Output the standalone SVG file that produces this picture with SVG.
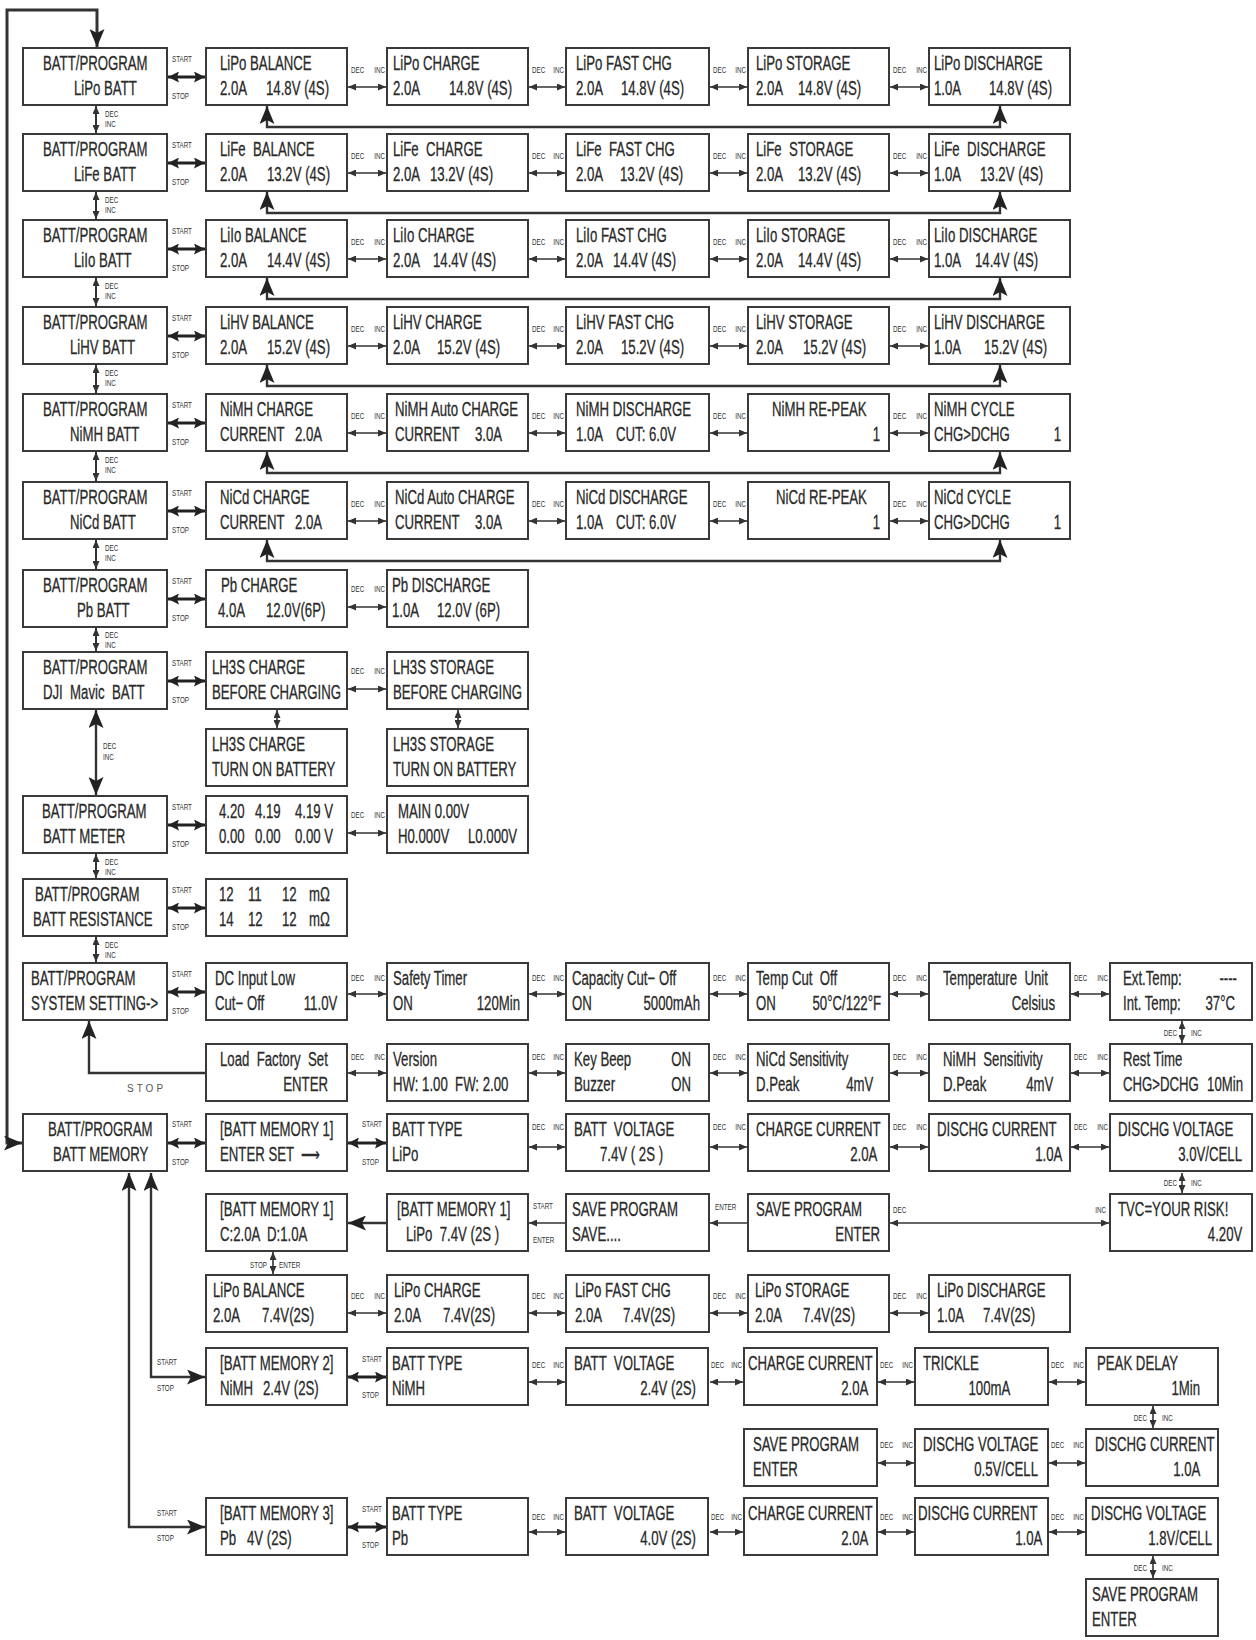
<svg xmlns="http://www.w3.org/2000/svg" width="1256" height="1640" viewBox="0 0 1256 1640" xml:space="preserve">
<style>
.b{fill:#fff;stroke:#3a3a3a;stroke-width:2}
text{font-family:"Liberation Sans",Arial,sans-serif;fill:#2a2a2a;white-space:pre;transform:scaleX(.66);transform-box:fill-box;transform-origin:0 0}
.t{font-size:20px;stroke:#2a2a2a;stroke-width:.3}
.s{font-size:9.5px;fill:#333}
.r{text-anchor:end;transform-origin:100% 0}
.k{font-size:10px;letter-spacing:3px;transform:none;fill:#555}
.l{fill:none;stroke:#333;stroke-width:1.6;marker-start:url(#a);marker-end:url(#a)}
.v{fill:none;stroke:#333;stroke-width:2;marker-start:url(#a);marker-end:url(#a)}
.e{fill:none;stroke:#333;stroke-width:1.6;marker-end:url(#a)}
.m{fill:none;stroke:#222;stroke-width:3;marker-start:url(#m);marker-end:url(#m)}
.w{fill:none;stroke:#333;stroke-width:2.4;marker-start:url(#A);marker-end:url(#A)}
.we{fill:none;stroke:#333;stroke-width:2.4;marker-end:url(#A)}
.o{fill:none;stroke:#333;stroke-width:3;marker-start:url(#A);marker-end:url(#A)}
</style>
<defs>
<marker id="a" viewBox="0 0 8 7" refX="8" refY="3.5" markerWidth="8" markerHeight="7" markerUnits="userSpaceOnUse" orient="auto-start-reverse"><path d="M0,0L8,3.5L0,7z" fill="#333"/></marker>
<marker id="m" viewBox="0 0 11 11" refX="11" refY="5.5" markerWidth="11" markerHeight="11" markerUnits="userSpaceOnUse" orient="auto-start-reverse"><path d="M0,0L11,5.5L0,11L2,5.5z" fill="#222"/></marker>
<marker id="A" viewBox="0 0 18 15" refX="18" refY="7.5" markerWidth="18" markerHeight="15" markerUnits="userSpaceOnUse" orient="auto-start-reverse"><path d="M0,0L18,7.5L0,15L4,7.5z" fill="#222"/></marker>
</defs>
<rect width="1256" height="1640" fill="#fff"/>

<g id="connectors">
<polyline class="o" points="22,1143 7,1143 7,10 97,10 97,47"/>
<line class="v" x1="96" y1="106" x2="96" y2="133"/><text class="s" x="105" y="117">DEC</text><text class="s" x="105" y="127">INC</text>
<line class="v" x1="96" y1="192" x2="96" y2="219"/><text class="s" x="105" y="203">DEC</text><text class="s" x="105" y="213">INC</text>
<line class="v" x1="96" y1="278" x2="96" y2="306"/><text class="s" x="105" y="289">DEC</text><text class="s" x="105" y="299">INC</text>
<line class="v" x1="96" y1="365" x2="96" y2="393"/><text class="s" x="105" y="376">DEC</text><text class="s" x="105" y="386">INC</text>
<line class="v" x1="96" y1="452" x2="96" y2="481"/><text class="s" x="105" y="463">DEC</text><text class="s" x="105" y="473">INC</text>
<line class="v" x1="96" y1="540" x2="96" y2="569"/><text class="s" x="105" y="551">DEC</text><text class="s" x="105" y="561">INC</text>
<line class="v" x1="96" y1="628" x2="96" y2="651"/><text class="s" x="105" y="638">DEC</text><text class="s" x="105" y="648">INC</text>
<line class="w" x1="96" y1="710" x2="96" y2="795"/><text class="s" x="103" y="749">DEC</text><text class="s" x="103" y="760">INC</text>
<line class="v" x1="96" y1="854" x2="96" y2="878"/><text class="s" x="105" y="865">DEC</text><text class="s" x="105" y="875">INC</text>
<line class="v" x1="96" y1="937" x2="96" y2="962"/><text class="s" x="105" y="948">DEC</text><text class="s" x="105" y="958">INC</text>

<polyline class="w" points="267,106 267,127 1000,127 1000,106"/>
<polyline class="w" points="267,192 267,213 1000,213 1000,192"/>
<polyline class="w" points="267,278 267,299 1000,299 1000,278"/>
<polyline class="w" points="267,365 267,386 1000,386 1000,365"/>
<polyline class="w" points="267,452 267,473 1000,473 1000,452"/>
<polyline class="w" points="267,540 267,561 1000,561 1000,540"/>

<line class="m" x1="168" y1="77" x2="205" y2="77"/><text class="s" x="172" y="62">START</text><text class="s" x="172" y="99">STOP</text>
<line class="m" x1="168" y1="163" x2="205" y2="163"/><text class="s" x="172" y="148">START</text><text class="s" x="172" y="185">STOP</text>
<line class="m" x1="168" y1="249" x2="205" y2="249"/><text class="s" x="172" y="234">START</text><text class="s" x="172" y="271">STOP</text>
<line class="m" x1="168" y1="336" x2="205" y2="336"/><text class="s" x="172" y="321">START</text><text class="s" x="172" y="358">STOP</text>
<line class="m" x1="168" y1="423" x2="205" y2="423"/><text class="s" x="172" y="408">START</text><text class="s" x="172" y="445">STOP</text>
<line class="m" x1="168" y1="511" x2="205" y2="511"/><text class="s" x="172" y="496">START</text><text class="s" x="172" y="533">STOP</text>
<line class="m" x1="168" y1="599" x2="205" y2="599"/><text class="s" x="172" y="584">START</text><text class="s" x="172" y="621">STOP</text>
<line class="m" x1="168" y1="681" x2="205" y2="681"/><text class="s" x="172" y="666">START</text><text class="s" x="172" y="703">STOP</text>
<line class="m" x1="168" y1="825" x2="205" y2="825"/><text class="s" x="172" y="810">START</text><text class="s" x="172" y="847">STOP</text>
<line class="m" x1="168" y1="908" x2="205" y2="908"/><text class="s" x="172" y="893">START</text><text class="s" x="172" y="930">STOP</text>
<line class="m" x1="168" y1="992" x2="205" y2="992"/><text class="s" x="172" y="977">START</text><text class="s" x="172" y="1014">STOP</text>
<line class="m" x1="168" y1="1143" x2="205" y2="1143"/><text class="s" x="172" y="1127">START</text><text class="s" x="172" y="1165">STOP</text>
<line class="m" x1="348" y1="1143" x2="386" y2="1143"/><text class="s" x="362" y="1127">START</text><text class="s" x="362" y="1165">STOP</text>
<line class="m" x1="348" y1="1377" x2="386" y2="1377"/><text class="s" x="362" y="1362">START</text><text class="s" x="362" y="1398">STOP</text>
<line class="m" x1="348" y1="1527" x2="386" y2="1527"/><text class="s" x="362" y="1512">START</text><text class="s" x="362" y="1548">STOP</text>

<polyline class="we" points="205,1073 89,1073 89,1021"/><text class="k" x="127" y="1092">STOP</text>
<polyline class="w" points="151,1173 151,1377 205,1377"/><text class="s" x="157" y="1365">START</text><text class="s" x="157" y="1391">STOP</text>
<polyline class="w" points="129,1173 129,1527 205,1527"/><text class="s" x="157" y="1516">START</text><text class="s" x="157" y="1541">STOP</text>

<line class="l" x1="348" y1="87" x2="386" y2="87"/><text class="s" x="351" y="73">DEC</text><text class="s r" x="385" y="73">INC</text>
<line class="l" x1="529" y1="87" x2="565" y2="87"/><text class="s" x="532" y="73">DEC</text><text class="s r" x="564" y="73">INC</text>
<line class="l" x1="710" y1="87" x2="747" y2="87"/><text class="s" x="713" y="73">DEC</text><text class="s r" x="746" y="73">INC</text>
<line class="l" x1="890" y1="87" x2="928" y2="87"/><text class="s" x="893" y="73">DEC</text><text class="s r" x="927" y="73">INC</text>

<line class="l" x1="348" y1="173" x2="386" y2="173"/><text class="s" x="351" y="159">DEC</text><text class="s r" x="385" y="159">INC</text>
<line class="l" x1="529" y1="173" x2="565" y2="173"/><text class="s" x="532" y="159">DEC</text><text class="s r" x="564" y="159">INC</text>
<line class="l" x1="710" y1="173" x2="747" y2="173"/><text class="s" x="713" y="159">DEC</text><text class="s r" x="746" y="159">INC</text>
<line class="l" x1="890" y1="173" x2="928" y2="173"/><text class="s" x="893" y="159">DEC</text><text class="s r" x="927" y="159">INC</text>

<line class="l" x1="348" y1="259" x2="386" y2="259"/><text class="s" x="351" y="245">DEC</text><text class="s r" x="385" y="245">INC</text>
<line class="l" x1="529" y1="259" x2="565" y2="259"/><text class="s" x="532" y="245">DEC</text><text class="s r" x="564" y="245">INC</text>
<line class="l" x1="710" y1="259" x2="747" y2="259"/><text class="s" x="713" y="245">DEC</text><text class="s r" x="746" y="245">INC</text>
<line class="l" x1="890" y1="259" x2="928" y2="259"/><text class="s" x="893" y="245">DEC</text><text class="s r" x="927" y="245">INC</text>

<line class="l" x1="348" y1="346" x2="386" y2="346"/><text class="s" x="351" y="332">DEC</text><text class="s r" x="385" y="332">INC</text>
<line class="l" x1="529" y1="346" x2="565" y2="346"/><text class="s" x="532" y="332">DEC</text><text class="s r" x="564" y="332">INC</text>
<line class="l" x1="710" y1="346" x2="747" y2="346"/><text class="s" x="713" y="332">DEC</text><text class="s r" x="746" y="332">INC</text>
<line class="l" x1="890" y1="346" x2="928" y2="346"/><text class="s" x="893" y="332">DEC</text><text class="s r" x="927" y="332">INC</text>

<line class="l" x1="348" y1="433" x2="386" y2="433"/><text class="s" x="351" y="419">DEC</text><text class="s r" x="385" y="419">INC</text>
<line class="l" x1="529" y1="433" x2="565" y2="433"/><text class="s" x="532" y="419">DEC</text><text class="s r" x="564" y="419">INC</text>
<line class="l" x1="710" y1="433" x2="747" y2="433"/><text class="s" x="713" y="419">DEC</text><text class="s r" x="746" y="419">INC</text>
<line class="l" x1="890" y1="433" x2="928" y2="433"/><text class="s" x="893" y="419">DEC</text><text class="s r" x="927" y="419">INC</text>

<line class="l" x1="348" y1="521" x2="386" y2="521"/><text class="s" x="351" y="507">DEC</text><text class="s r" x="385" y="507">INC</text>
<line class="l" x1="529" y1="521" x2="565" y2="521"/><text class="s" x="532" y="507">DEC</text><text class="s r" x="564" y="507">INC</text>
<line class="l" x1="710" y1="521" x2="747" y2="521"/><text class="s" x="713" y="507">DEC</text><text class="s r" x="746" y="507">INC</text>
<line class="l" x1="890" y1="521" x2="928" y2="521"/><text class="s" x="893" y="507">DEC</text><text class="s r" x="927" y="507">INC</text>

<line class="l" x1="348" y1="607" x2="386" y2="607"/><text class="s" x="351" y="592">DEC</text><text class="s r" x="385" y="592">INC</text>
<line class="l" x1="348" y1="689" x2="386" y2="689"/><text class="s" x="351" y="674">DEC</text><text class="s r" x="385" y="674">INC</text>
<line class="l" x1="277" y1="710" x2="277" y2="728"/>
<line class="l" x1="458" y1="710" x2="458" y2="728"/>
<line class="l" x1="348" y1="833" x2="386" y2="833"/><text class="s" x="351" y="818">DEC</text><text class="s r" x="385" y="818">INC</text>

<line class="l" x1="348" y1="994" x2="386" y2="994"/><text class="s" x="351" y="981">DEC</text><text class="s r" x="385" y="981">INC</text>
<line class="l" x1="529" y1="994" x2="565" y2="994"/><text class="s" x="532" y="981">DEC</text><text class="s r" x="564" y="981">INC</text>
<line class="l" x1="710" y1="994" x2="747" y2="994"/><text class="s" x="713" y="981">DEC</text><text class="s r" x="746" y="981">INC</text>
<line class="l" x1="890" y1="994" x2="928" y2="994"/><text class="s" x="893" y="981">DEC</text><text class="s r" x="927" y="981">INC</text>
<line class="l" x1="1071" y1="994" x2="1109" y2="994"/><text class="s" x="1074" y="981">DEC</text><text class="s r" x="1108" y="981">INC</text>
<line class="l" x1="1182" y1="1021" x2="1182" y2="1043"/><text class="s r" x="1177" y="1036">DEC</text><text class="s" x="1191" y="1036">INC</text>

<line class="l" x1="348" y1="1073" x2="386" y2="1073"/><text class="s" x="351" y="1060">DEC</text><text class="s r" x="385" y="1060">INC</text>
<line class="l" x1="529" y1="1073" x2="565" y2="1073"/><text class="s" x="532" y="1060">DEC</text><text class="s r" x="564" y="1060">INC</text>
<line class="l" x1="710" y1="1073" x2="747" y2="1073"/><text class="s" x="713" y="1060">DEC</text><text class="s r" x="746" y="1060">INC</text>
<line class="l" x1="890" y1="1073" x2="928" y2="1073"/><text class="s" x="893" y="1060">DEC</text><text class="s r" x="927" y="1060">INC</text>
<line class="l" x1="1071" y1="1073" x2="1109" y2="1073"/><text class="s" x="1074" y="1060">DEC</text><text class="s r" x="1108" y="1060">INC</text>

<line class="l" x1="529" y1="1147" x2="565" y2="1147"/><text class="s" x="532" y="1130">DEC</text><text class="s r" x="564" y="1130">INC</text>
<line class="l" x1="710" y1="1147" x2="747" y2="1147"/><text class="s" x="713" y="1130">DEC</text><text class="s r" x="746" y="1130">INC</text>
<line class="l" x1="890" y1="1147" x2="928" y2="1147"/><text class="s" x="893" y="1130">DEC</text><text class="s r" x="927" y="1130">INC</text>
<line class="l" x1="1071" y1="1147" x2="1109" y2="1147"/><text class="s" x="1074" y="1130">DEC</text><text class="s r" x="1108" y="1130">INC</text>
<line class="l" x1="1182" y1="1173" x2="1182" y2="1193"/><text class="s r" x="1177" y="1186">DEC</text><text class="s" x="1191" y="1186">INC</text>

<line class="we" x1="386" y1="1223" x2="348" y2="1223"/>
<line class="e" x1="565" y1="1223" x2="529" y2="1223"/><text class="s" x="533" y="1209">START</text><text class="s" x="533" y="1243">ENTER</text>
<line class="e" x1="747" y1="1223" x2="710" y2="1223"/><text class="s" x="715" y="1210">ENTER</text>
<line class="l" x1="1109" y1="1223" x2="890" y2="1223"/><text class="s" x="893" y="1213">DEC</text><text class="s r" x="1106" y="1213">INC</text>
<line class="l" x1="273" y1="1252" x2="273" y2="1274"/><text class="s r" x="267" y="1268">STOP</text><text class="s" x="279" y="1268">ENTER</text>

<line class="l" x1="348" y1="1313" x2="386" y2="1313"/><text class="s" x="351" y="1299">DEC</text><text class="s r" x="385" y="1299">INC</text>
<line class="l" x1="529" y1="1313" x2="565" y2="1313"/><text class="s" x="532" y="1299">DEC</text><text class="s r" x="564" y="1299">INC</text>
<line class="l" x1="710" y1="1313" x2="747" y2="1313"/><text class="s" x="713" y="1299">DEC</text><text class="s r" x="746" y="1299">INC</text>
<line class="l" x1="890" y1="1313" x2="928" y2="1313"/><text class="s" x="893" y="1299">DEC</text><text class="s r" x="927" y="1299">INC</text>

<line class="l" x1="529" y1="1382" x2="565" y2="1382"/><text class="s" x="532" y="1368">DEC</text><text class="s r" x="564" y="1368">INC</text>
<line class="l" x1="710" y1="1382" x2="743" y2="1382"/><text class="s" x="711" y="1368">DEC</text><text class="s r" x="742" y="1368">INC</text>
<line class="l" x1="878" y1="1382" x2="914" y2="1382"/><text class="s" x="880" y="1368">DEC</text><text class="s r" x="913" y="1368">INC</text>
<line class="l" x1="1049" y1="1382" x2="1085" y2="1382"/><text class="s" x="1051" y="1368">DEC</text><text class="s r" x="1084" y="1368">INC</text>
<line class="l" x1="1153" y1="1406" x2="1153" y2="1428"/><text class="s r" x="1147" y="1421">DEC</text><text class="s" x="1162" y="1421">INC</text>

<line class="l" x1="878" y1="1463" x2="914" y2="1463"/><text class="s" x="880" y="1448">DEC</text><text class="s r" x="913" y="1448">INC</text>
<line class="l" x1="1049" y1="1463" x2="1085" y2="1463"/><text class="s" x="1051" y="1448">DEC</text><text class="s r" x="1084" y="1448">INC</text>

<line class="l" x1="529" y1="1532" x2="565" y2="1532"/><text class="s" x="532" y="1520">DEC</text><text class="s r" x="564" y="1520">INC</text>
<line class="l" x1="710" y1="1532" x2="743" y2="1532"/><text class="s" x="711" y="1520">DEC</text><text class="s r" x="742" y="1520">INC</text>
<line class="l" x1="878" y1="1532" x2="914" y2="1532"/><text class="s" x="880" y="1520">DEC</text><text class="s r" x="913" y="1520">INC</text>
<line class="l" x1="1049" y1="1532" x2="1085" y2="1532"/><text class="s" x="1051" y="1520">DEC</text><text class="s r" x="1084" y="1520">INC</text>
<line class="l" x1="1153" y1="1556" x2="1153" y2="1578"/><text class="s r" x="1147" y="1571">DEC</text><text class="s" x="1162" y="1571">INC</text>
</g>

<g id="p-lipo" transform="translate(23 48)"><rect class="b" width="144" height="57"/><text class="t" x="20" y="22">BATT/PROGRAM</text><text class="t" x="51" y="47">LiPo BATT</text></g>
<g id="p-life" transform="translate(23 134)"><rect class="b" width="144" height="57"/><text class="t" x="20" y="22">BATT/PROGRAM</text><text class="t" x="51" y="47">LiFe BATT</text></g>
<g id="p-liio" transform="translate(23 220)"><rect class="b" width="144" height="57"/><text class="t" x="20" y="22">BATT/PROGRAM</text><text class="t" x="51" y="47">LiIo BATT</text></g>
<g id="p-lihv" transform="translate(23 307)"><rect class="b" width="144" height="57"/><text class="t" x="20" y="22">BATT/PROGRAM</text><text class="t" x="47" y="47">LiHV BATT</text></g>
<g id="p-nimh" transform="translate(23 394)"><rect class="b" width="144" height="57"/><text class="t" x="20" y="22">BATT/PROGRAM</text><text class="t" x="47" y="47">NiMH BATT</text></g>
<g id="p-nicd" transform="translate(23 482)"><rect class="b" width="144" height="57"/><text class="t" x="20" y="22">BATT/PROGRAM</text><text class="t" x="47" y="47">NiCd BATT</text></g>
<g id="p-pb" transform="translate(23 570)"><rect class="b" width="144" height="57"/><text class="t" x="20" y="22">BATT/PROGRAM</text><text class="t" x="54" y="47">Pb BATT</text></g>
<g id="p-dji" transform="translate(23 652)"><rect class="b" width="144" height="57"/><text class="t" x="20" y="22">BATT/PROGRAM</text><text class="t" x="20" y="47">DJI  Mavic  BATT</text></g>
<g id="p-meter" transform="translate(23 796)"><rect class="b" width="144" height="57"/><text class="t" x="19" y="22">BATT/PROGRAM</text><text class="t" x="20" y="47">BATT METER</text></g>
<g id="p-res" transform="translate(23 879)"><rect class="b" width="144" height="57"/><text class="t" x="12" y="22">BATT/PROGRAM</text><text class="t" x="10" y="47">BATT RESISTANCE</text></g>
<g id="p-sys" transform="translate(23 963)"><rect class="b" width="144" height="57"/><text class="t" x="8" y="22">BATT/PROGRAM</text><text class="t" x="8" y="47">SYSTEM SETTING-&gt;</text></g>
<g id="p-mem" transform="translate(23 1114)"><rect class="b" width="144" height="57"/><text class="t" x="25" y="22">BATT/PROGRAM</text><text class="t" x="30" y="47">BATT MEMORY</text></g>

<g id="lipo-bal" transform="translate(206 48)"><rect class="b" width="141" height="57"/><text class="t" x="14" y="22">LiPo BALANCE</text><text class="t" x="14" y="47">2.0A</text><text class="t" x="60" y="47">14.8V (4S)</text></g>
<g id="lipo-chg" transform="translate(387 48)"><rect class="b" width="141" height="57"/><text class="t" x="6" y="22">LiPo CHARGE</text><text class="t" x="6" y="47">2.0A</text><text class="t" x="62" y="47">14.8V (4S)</text></g>
<g id="lipo-fast" transform="translate(566 48)"><rect class="b" width="143" height="57"/><text class="t" x="10" y="22">LiPo FAST CHG</text><text class="t" x="10" y="47">2.0A</text><text class="t" x="55" y="47">14.8V (4S)</text></g>
<g id="lipo-sto" transform="translate(748 48)"><rect class="b" width="141" height="57"/><text class="t" x="8" y="22">LiPo STORAGE</text><text class="t" x="8" y="47">2.0A</text><text class="t" x="50" y="47">14.8V (4S)</text></g>
<g id="lipo-dis" transform="translate(929 48)"><rect class="b" width="141" height="57"/><text class="t" x="5" y="22">LiPo DISCHARGE</text><text class="t" x="5" y="47">1.0A</text><text class="t" x="60" y="47">14.8V (4S)</text></g>

<g id="life-bal" transform="translate(206 134)"><rect class="b" width="141" height="57"/><text class="t" x="14" y="22">LiFe  BALANCE</text><text class="t" x="14" y="47">2.0A</text><text class="t" x="61" y="47">13.2V (4S)</text></g>
<g id="life-chg" transform="translate(387 134)"><rect class="b" width="141" height="57"/><text class="t" x="6" y="22">LiFe  CHARGE</text><text class="t" x="6" y="47">2.0A</text><text class="t" x="43" y="47">13.2V (4S)</text></g>
<g id="life-fast" transform="translate(566 134)"><rect class="b" width="143" height="57"/><text class="t" x="10" y="22">LiFe  FAST CHG</text><text class="t" x="10" y="47">2.0A</text><text class="t" x="54" y="47">13.2V (4S)</text></g>
<g id="life-sto" transform="translate(748 134)"><rect class="b" width="141" height="57"/><text class="t" x="8" y="22">LiFe  STORAGE</text><text class="t" x="8" y="47">2.0A</text><text class="t" x="50" y="47">13.2V (4S)</text></g>
<g id="life-dis" transform="translate(929 134)"><rect class="b" width="141" height="57"/><text class="t" x="5" y="22">LiFe  DISCHARGE</text><text class="t" x="5" y="47">1.0A</text><text class="t" x="51" y="47">13.2V (4S)</text></g>

<g id="liio-bal" transform="translate(206 220)"><rect class="b" width="141" height="57"/><text class="t" x="14" y="22">LiIo BALANCE</text><text class="t" x="14" y="47">2.0A</text><text class="t" x="61" y="47">14.4V (4S)</text></g>
<g id="liio-chg" transform="translate(387 220)"><rect class="b" width="141" height="57"/><text class="t" x="6" y="22">LiIo CHARGE</text><text class="t" x="6" y="47">2.0A</text><text class="t" x="46" y="47">14.4V (4S)</text></g>
<g id="liio-fast" transform="translate(566 220)"><rect class="b" width="143" height="57"/><text class="t" x="10" y="22">LiIo FAST CHG</text><text class="t" x="10" y="47">2.0A</text><text class="t" x="47" y="47">14.4V (4S)</text></g>
<g id="liio-sto" transform="translate(748 220)"><rect class="b" width="141" height="57"/><text class="t" x="8" y="22">LiIo STORAGE</text><text class="t" x="8" y="47">2.0A</text><text class="t" x="50" y="47">14.4V (4S)</text></g>
<g id="liio-dis" transform="translate(929 220)"><rect class="b" width="141" height="57"/><text class="t" x="5" y="22">LiIo DISCHARGE</text><text class="t" x="5" y="47">1.0A</text><text class="t" x="46" y="47">14.4V (4S)</text></g>

<g id="lihv-bal" transform="translate(206 307)"><rect class="b" width="141" height="57"/><text class="t" x="14" y="22">LiHV BALANCE</text><text class="t" x="14" y="47">2.0A</text><text class="t" x="61" y="47">15.2V (4S)</text></g>
<g id="lihv-chg" transform="translate(387 307)"><rect class="b" width="141" height="57"/><text class="t" x="6" y="22">LiHV CHARGE</text><text class="t" x="6" y="47">2.0A</text><text class="t" x="50" y="47">15.2V (4S)</text></g>
<g id="lihv-fast" transform="translate(566 307)"><rect class="b" width="143" height="57"/><text class="t" x="10" y="22">LiHV FAST CHG</text><text class="t" x="10" y="47">2.0A</text><text class="t" x="55" y="47">15.2V (4S)</text></g>
<g id="lihv-sto" transform="translate(748 307)"><rect class="b" width="141" height="57"/><text class="t" x="8" y="22">LiHV STORAGE</text><text class="t" x="8" y="47">2.0A</text><text class="t" x="55" y="47">15.2V (4S)</text></g>
<g id="lihv-dis" transform="translate(929 307)"><rect class="b" width="141" height="57"/><text class="t" x="5" y="22">LiHV DISCHARGE</text><text class="t" x="5" y="47">1.0A</text><text class="t" x="55" y="47">15.2V (4S)</text></g>

<g id="nimh-chg" transform="translate(206 394)"><rect class="b" width="141" height="57"/><text class="t" x="14" y="22">NiMH CHARGE</text><text class="t" x="14" y="47">CURRENT</text><text class="t" x="89" y="47">2.0A</text></g>
<g id="nimh-auto" transform="translate(387 394)"><rect class="b" width="141" height="57"/><text class="t" x="8" y="22">NiMH Auto CHARGE</text><text class="t" x="8" y="47">CURRENT</text><text class="t" x="88" y="47">3.0A</text></g>
<g id="nimh-dis" transform="translate(566 394)"><rect class="b" width="143" height="57"/><text class="t" x="10" y="22">NiMH DISCHARGE</text><text class="t" x="10" y="47">1.0A</text><text class="t" x="50" y="47">CUT: 6.0V</text></g>
<g id="nimh-peak" transform="translate(748 394)"><rect class="b" width="141" height="57"/><text class="t" x="24" y="22">NiMH RE-PEAK</text><text class="t r" x="132" y="47">1</text></g>
<g id="nimh-cyc" transform="translate(929 394)"><rect class="b" width="141" height="57"/><text class="t" x="5" y="22">NiMH CYCLE</text><text class="t" x="5" y="47">CHG&gt;DCHG</text><text class="t r" x="132" y="47">1</text></g>

<g id="nicd-chg" transform="translate(206 482)"><rect class="b" width="141" height="57"/><text class="t" x="14" y="22">NiCd CHARGE</text><text class="t" x="14" y="47">CURRENT</text><text class="t" x="89" y="47">2.0A</text></g>
<g id="nicd-auto" transform="translate(387 482)"><rect class="b" width="141" height="57"/><text class="t" x="8" y="22">NiCd Auto CHARGE</text><text class="t" x="8" y="47">CURRENT</text><text class="t" x="88" y="47">3.0A</text></g>
<g id="nicd-dis" transform="translate(566 482)"><rect class="b" width="143" height="57"/><text class="t" x="10" y="22">NiCd DISCHARGE</text><text class="t" x="10" y="47">1.0A</text><text class="t" x="50" y="47">CUT: 6.0V</text></g>
<g id="nicd-peak" transform="translate(748 482)"><rect class="b" width="141" height="57"/><text class="t" x="28" y="22">NiCd RE-PEAK</text><text class="t r" x="132" y="47">1</text></g>
<g id="nicd-cyc" transform="translate(929 482)"><rect class="b" width="141" height="57"/><text class="t" x="5" y="22">NiCd CYCLE</text><text class="t" x="5" y="47">CHG&gt;DCHG</text><text class="t r" x="132" y="47">1</text></g>

<g id="pb-chg" transform="translate(206 570)"><rect class="b" width="141" height="57"/><text class="t" x="15" y="22">Pb CHARGE</text><text class="t" x="12" y="47">4.0A</text><text class="t" x="60" y="47">12.0V(6P)</text></g>
<g id="pb-dis" transform="translate(387 570)"><rect class="b" width="141" height="57"/><text class="t" x="5" y="22">Pb DISCHARGE</text><text class="t" x="5" y="47">1.0A</text><text class="t" x="50" y="47">12.0V (6P)</text></g>

<g id="dji-chg" transform="translate(206 652)"><rect class="b" width="141" height="57"/><text class="t" x="6" y="22">LH3S CHARGE</text><text class="t" x="6" y="47">BEFORE CHARGING</text></g>
<g id="dji-sto" transform="translate(387 652)"><rect class="b" width="141" height="57"/><text class="t" x="6" y="22">LH3S STORAGE</text><text class="t" x="6" y="47">BEFORE CHARGING</text></g>
<g id="dji-chg-on" transform="translate(206 729)"><rect class="b" width="141" height="57"/><text class="t" x="6" y="22">LH3S CHARGE</text><text class="t" x="6" y="47">TURN ON BATTERY</text></g>
<g id="dji-sto-on" transform="translate(387 729)"><rect class="b" width="141" height="57"/><text class="t" x="6" y="22">LH3S STORAGE</text><text class="t" x="6" y="47">TURN ON BATTERY</text></g>

<g id="meter-cells" transform="translate(206 796)"><rect class="b" width="141" height="57"/><text class="t" x="13" y="22">4.20</text><text class="t" x="49" y="22">4.19</text><text class="t" x="89" y="22">4.19 V</text><text class="t" x="13" y="47">0.00</text><text class="t" x="49" y="47">0.00</text><text class="t" x="89" y="47">0.00 V</text></g>
<g id="meter-main" transform="translate(387 796)"><rect class="b" width="141" height="57"/><text class="t" x="11" y="22">MAIN 0.00V</text><text class="t" x="11" y="47">H0.000V</text><text class="t" x="81" y="47">L0.000V</text></g>
<g id="res-cells" transform="translate(206 879)"><rect class="b" width="141" height="57"/><text class="t" x="13" y="22">12</text><text class="t" x="42" y="22">11</text><text class="t" x="76" y="22">12</text><text class="t" x="103" y="22">mΩ</text><text class="t" x="13" y="47">14</text><text class="t" x="42" y="47">12</text><text class="t" x="76" y="47">12</text><text class="t" x="103" y="47">mΩ</text></g>

<g id="sys-dc" transform="translate(206 963)"><rect class="b" width="141" height="57"/><text class="t" x="9" y="22">DC Input Low</text><text class="t" x="9" y="47">Cut− Off</text><text class="t r" x="131" y="47">11.0V</text></g>
<g id="sys-timer" transform="translate(387 963)"><rect class="b" width="141" height="57"/><text class="t" x="6" y="22">Safety Timer</text><text class="t" x="6" y="47">ON</text><text class="t r" x="133" y="47">120Min</text></g>
<g id="sys-cap" transform="translate(566 963)"><rect class="b" width="143" height="57"/><text class="t" x="6" y="22">Capacity Cut− Off</text><text class="t" x="6" y="47">ON</text><text class="t r" x="134" y="47">5000mAh</text></g>
<g id="sys-temp" transform="translate(748 963)"><rect class="b" width="141" height="57"/><text class="t" x="8" y="22">Temp Cut  Off</text><text class="t" x="8" y="47">ON</text><text class="t r" x="133" y="47">50°C/122°F</text></g>
<g id="sys-unit" transform="translate(929 963)"><rect class="b" width="141" height="57"/><text class="t" x="14" y="22">Temperature  Unit</text><text class="t r" x="126" y="47">Celsius</text></g>
<g id="sys-ext" transform="translate(1110 963)"><rect class="b" width="142" height="57"/><text class="t" x="13" y="22">Ext.Temp:</text><text class="t r" x="127" y="22">----</text><text class="t" x="13" y="47">Int. Temp:</text><text class="t r" x="125" y="47">37°C</text></g>

<g id="sys-load" transform="translate(206 1044)"><rect class="b" width="141" height="57"/><text class="t" x="14" y="22">Load  Factory  Set</text><text class="t r" x="122" y="47">ENTER</text></g>
<g id="sys-ver" transform="translate(387 1044)"><rect class="b" width="141" height="57"/><text class="t" x="6" y="22">Version</text><text class="t" x="6" y="47">HW: 1.00  FW: 2.00</text></g>
<g id="sys-beep" transform="translate(566 1044)"><rect class="b" width="143" height="57"/><text class="t" x="8" y="22">Key Beep</text><text class="t r" x="125" y="22">ON</text><text class="t" x="8" y="47">Buzzer</text><text class="t r" x="125" y="47">ON</text></g>
<g id="sys-nicd" transform="translate(748 1044)"><rect class="b" width="141" height="57"/><text class="t" x="8" y="22">NiCd Sensitivity</text><text class="t" x="8" y="47">D.Peak</text><text class="t r" x="125" y="47">4mV</text></g>
<g id="sys-nimh" transform="translate(929 1044)"><rect class="b" width="141" height="57"/><text class="t" x="14" y="22">NiMH  Sensitivity</text><text class="t" x="14" y="47">D.Peak</text><text class="t r" x="124" y="47">4mV</text></g>
<g id="sys-rest" transform="translate(1110 1044)"><rect class="b" width="142" height="57"/><text class="t" x="13" y="22">Rest Time</text><text class="t" x="13" y="47">CHG&gt;DCHG</text><text class="t r" x="133" y="47">10Min</text></g>

<g id="m1-enter" transform="translate(206 1114)"><rect class="b" width="141" height="57"/><text class="t" x="14" y="22">[BATT MEMORY 1]</text><text class="t" x="14" y="47">ENTER SET  ⟶</text></g>
<g id="m1-type" transform="translate(387 1114)"><rect class="b" width="141" height="57"/><text class="t" x="5" y="22">BATT TYPE</text><text class="t" x="5" y="47">LiPo</text></g>
<g id="m1-volt" transform="translate(566 1114)"><rect class="b" width="143" height="57"/><text class="t" x="8" y="22">BATT  VOLTAGE</text><text class="t" x="34" y="47">7.4V ( 2S )</text></g>
<g id="m1-chg" transform="translate(748 1114)"><rect class="b" width="141" height="57"/><text class="t" x="8" y="22">CHARGE CURRENT</text><text class="t r" x="129" y="47">2.0A</text></g>
<g id="m1-dcur" transform="translate(929 1114)"><rect class="b" width="141" height="57"/><text class="t" x="8" y="22">DISCHG CURRENT</text><text class="t r" x="133" y="47">1.0A</text></g>
<g id="m1-dvolt" transform="translate(1110 1114)"><rect class="b" width="142" height="57"/><text class="t" x="8" y="22">DISCHG VOLTAGE</text><text class="t r" x="132" y="47">3.0V/CELL</text></g>

<g id="m1-summary" transform="translate(206 1194)"><rect class="b" width="141" height="57"/><text class="t" x="14" y="22">[BATT MEMORY 1]</text><text class="t" x="14" y="47">C:2.0A  D:1.0A</text></g>
<g id="m1-saved" transform="translate(387 1194)"><rect class="b" width="141" height="57"/><text class="t" x="10" y="22">[BATT MEMORY 1]</text><text class="t" x="19" y="47">LiPo  7.4V (2S )</text></g>
<g id="m1-saving" transform="translate(566 1194)"><rect class="b" width="143" height="57"/><text class="t" x="6" y="22">SAVE PROGRAM</text><text class="t" x="6" y="47">SAVE....</text></g>
<g id="m1-save" transform="translate(748 1194)"><rect class="b" width="141" height="57"/><text class="t" x="8" y="22">SAVE PROGRAM</text><text class="t r" x="132" y="47">ENTER</text></g>
<g id="m1-tvc" transform="translate(1110 1194)"><rect class="b" width="142" height="57"/><text class="t" x="8" y="22">TVC=YOUR RISK!</text><text class="t r" x="132" y="47">4.20V</text></g>

<g id="m1-bal" transform="translate(206 1275)"><rect class="b" width="141" height="57"/><text class="t" x="7" y="22">LiPo BALANCE</text><text class="t" x="7" y="47">2.0A</text><text class="t" x="56" y="47">7.4V(2S)</text></g>
<g id="m1-lchg" transform="translate(387 1275)"><rect class="b" width="141" height="57"/><text class="t" x="7" y="22">LiPo CHARGE</text><text class="t" x="7" y="47">2.0A</text><text class="t" x="56" y="47">7.4V(2S)</text></g>
<g id="m1-fast" transform="translate(566 1275)"><rect class="b" width="143" height="57"/><text class="t" x="9" y="22">LiPo FAST CHG</text><text class="t" x="9" y="47">2.0A</text><text class="t" x="57" y="47">7.4V(2S)</text></g>
<g id="m1-sto" transform="translate(748 1275)"><rect class="b" width="141" height="57"/><text class="t" x="7" y="22">LiPo STORAGE</text><text class="t" x="7" y="47">2.0A</text><text class="t" x="55" y="47">7.4V(2S)</text></g>
<g id="m1-dis" transform="translate(929 1275)"><rect class="b" width="141" height="57"/><text class="t" x="8" y="22">LiPo DISCHARGE</text><text class="t" x="8" y="47">1.0A</text><text class="t" x="54" y="47">7.4V(2S)</text></g>

<g id="m2-head" transform="translate(206 1348)"><rect class="b" width="141" height="57"/><text class="t" x="14" y="22">[BATT MEMORY 2]</text><text class="t" x="14" y="47">NiMH</text><text class="t" x="57" y="47">2.4V (2S)</text></g>
<g id="m2-type" transform="translate(387 1348)"><rect class="b" width="141" height="57"/><text class="t" x="5" y="22">BATT TYPE</text><text class="t" x="5" y="47">NiMH</text></g>
<g id="m2-volt" transform="translate(566 1348)"><rect class="b" width="142" height="57"/><text class="t" x="8" y="22">BATT  VOLTAGE</text><text class="t r" x="130" y="47">2.4V (2S)</text></g>
<g id="m2-chg" transform="translate(744 1348)"><rect class="b" width="133" height="57"/><text class="t" x="4" y="22">CHARGE CURRENT</text><text class="t r" x="124" y="47">2.0A</text></g>
<g id="m2-trickle" transform="translate(915 1348)"><rect class="b" width="133" height="57"/><text class="t" x="8" y="22">TRICKLE</text><text class="t r" x="95" y="47">100mA</text></g>
<g id="m2-peak" transform="translate(1086 1348)"><rect class="b" width="132" height="57"/><text class="t" x="11" y="22">PEAK DELAY</text><text class="t r" x="114" y="47">1Min</text></g>
<g id="m2-save" transform="translate(744 1429)"><rect class="b" width="133" height="57"/><text class="t" x="9" y="22">SAVE PROGRAM</text><text class="t" x="9" y="47">ENTER</text></g>
<g id="m2-dvolt" transform="translate(915 1429)"><rect class="b" width="133" height="57"/><text class="t" x="8" y="22">DISCHG VOLTAGE</text><text class="t r" x="123" y="47">0.5V/CELL</text></g>
<g id="m2-dcur" transform="translate(1086 1429)"><rect class="b" width="132" height="57"/><text class="t" x="9" y="22">DISCHG CURRENT</text><text class="t r" x="114" y="47">1.0A</text></g>

<g id="m3-head" transform="translate(206 1498)"><rect class="b" width="141" height="57"/><text class="t" x="14" y="22">[BATT MEMORY 3]</text><text class="t" x="14" y="47">Pb</text><text class="t" x="41" y="47">4V (2S)</text></g>
<g id="m3-type" transform="translate(387 1498)"><rect class="b" width="141" height="57"/><text class="t" x="5" y="22">BATT TYPE</text><text class="t" x="5" y="47">Pb</text></g>
<g id="m3-volt" transform="translate(566 1498)"><rect class="b" width="142" height="57"/><text class="t" x="8" y="22">BATT  VOLTAGE</text><text class="t r" x="130" y="47">4.0V (2S)</text></g>
<g id="m3-chg" transform="translate(744 1498)"><rect class="b" width="133" height="57"/><text class="t" x="4" y="22">CHARGE CURRENT</text><text class="t r" x="124" y="47">2.0A</text></g>
<g id="m3-dcur" transform="translate(915 1498)"><rect class="b" width="133" height="57"/><text class="t" x="3" y="22">DISCHG CURRENT</text><text class="t r" x="127" y="47">1.0A</text></g>
<g id="m3-dvolt" transform="translate(1086 1498)"><rect class="b" width="132" height="57"/><text class="t" x="5" y="22">DISCHG VOLTAGE</text><text class="t r" x="126" y="47">1.8V/CELL</text></g>
<g id="m3-save" transform="translate(1086 1579)"><rect class="b" width="132" height="57"/><text class="t" x="6" y="22">SAVE PROGRAM</text><text class="t" x="6" y="47">ENTER</text></g>
</svg>
